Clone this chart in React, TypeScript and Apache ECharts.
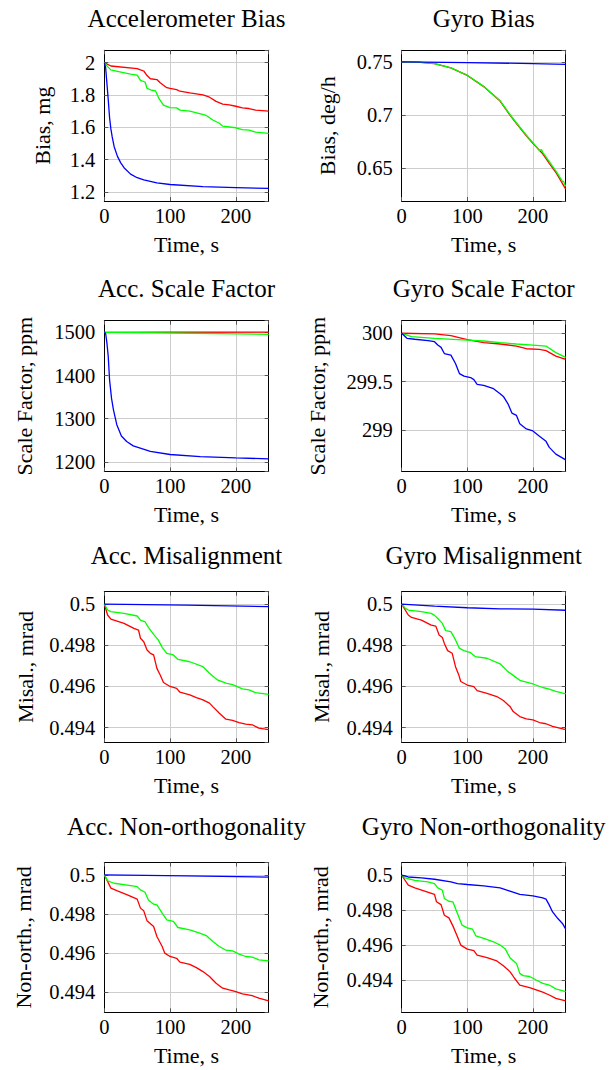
import React, { useEffect, useRef } from "react";
import * as echarts from "echarts";

const FONT = "Liberation Serif";

// ---------- Data (time in s, values) ----------
// 1. Accelerometer Bias (mg)
const accBiasRedT = [0, 10, 50, 55, 60, 65, 70, 80, 85, 90, 95, 100, 110, 115, 130, 150, 160, 170, 180, 190, 200, 210, 220, 230, 250];
const accBiasRedV = [2.0, 1.979, 1.963, 1.955, 1.948, 1.92, 1.9, 1.895, 1.875, 1.86, 1.845, 1.84, 1.833, 1.823, 1.813, 1.8, 1.786, 1.76, 1.743, 1.739, 1.73, 1.72, 1.716, 1.706, 1.7];
const accBiasGreenT = [0, 5, 10, 20, 40, 50, 55, 62, 65, 72, 78, 83, 90, 100, 110, 115, 130, 145, 155, 165, 175, 180, 200, 210, 220, 230, 250];
const accBiasGreenV = [2.0, 1.975, 1.955, 1.946, 1.928, 1.922, 1.89, 1.88, 1.84, 1.829, 1.825, 1.778, 1.737, 1.722, 1.72, 1.706, 1.7, 1.685, 1.673, 1.645, 1.625, 1.607, 1.597, 1.585, 1.582, 1.57, 1.562];
const accBiasBlueT = [0, 2, 4, 6, 8, 10, 12, 15, 20, 25, 30, 40, 50, 60, 80, 100, 150, 200, 250];
const accBiasBlueV = [2.0, 1.97, 1.87, 1.77, 1.66, 1.59, 1.54, 1.48, 1.42, 1.38, 1.35, 1.31, 1.288, 1.274, 1.256, 1.246, 1.233, 1.227, 1.222];

// 2. Gyro Bias (deg/h)
const gyroBiasRedT = [0, 25, 50, 75, 100, 125, 150, 165, 175, 190, 200, 215, 225, 236, 250];
const gyroBiasRedV = [0.75, 0.7498, 0.7485, 0.7444, 0.7373, 0.7268, 0.7132, 0.7, 0.692, 0.6805, 0.6733, 0.6635, 0.6545, 0.645, 0.6302];
const gyroBiasGreenT = [0, 25, 50, 75, 100, 125, 150, 165, 175, 190, 200, 210, 213, 215, 225, 236, 245, 247, 250];
const gyroBiasGreenV = [0.75, 0.7498, 0.7485, 0.7445, 0.7375, 0.727, 0.7135, 0.7005, 0.6925, 0.681, 0.674, 0.6665, 0.6675, 0.6648, 0.656, 0.6465, 0.6375, 0.6372, 0.6327];
const gyroBiasBlueT = [0, 100, 200, 250];
const gyroBiasBlueV = [0.75, 0.7494, 0.7485, 0.7478];

// 3. Acc. Scale Factor (ppm)
const accSfRedT = [0, 100, 250];
const accSfRedV = [1500, 1500.2, 1500.5];
const accSfGreenT = [0, 100, 200, 250];
const accSfGreenV = [1500, 1498.5, 1496.5, 1495.5];
const accSfBlueT = [0, 2, 4, 6, 8, 11, 14, 19, 26, 34, 44, 70, 100, 146, 200, 250];
const accSfBlueV = [1500, 1498, 1475, 1444, 1390, 1347, 1320, 1286, 1260, 1247, 1237, 1224, 1217, 1212, 1209, 1207];

// 4. Gyro Scale Factor (ppm)
const gyroSfRedT = [0, 50, 75, 100, 125, 150, 175, 190, 210, 220, 235, 250];
const gyroSfRedV = [300, 299.993, 299.976, 299.934, 299.903, 299.889, 299.868, 299.84, 299.833, 299.82, 299.764, 299.73];
const gyroSfGreenT = [0, 15, 50, 100, 125, 150, 175, 200, 220, 235, 250];
const gyroSfGreenV = [300, 299.965, 299.948, 299.93, 299.92, 299.903, 299.889, 299.878, 299.868, 299.8, 299.75];
const gyroSfBlueT = [0, 8, 20, 40, 50, 55, 60, 65, 75, 82, 88, 95, 105, 110, 115, 125, 140, 150, 155, 162, 168, 175, 180, 190, 200, 210, 220, 225, 235, 250];
const gyroSfBlueV = [300, 299.948, 299.938, 299.924, 299.913, 299.878, 299.854, 299.79, 299.774, 299.687, 299.583, 299.556, 299.542, 299.52, 299.472, 299.462, 299.427, 299.375, 299.347, 299.27, 299.174, 299.15, 299.063, 299.01, 298.99, 298.934, 298.882, 298.82, 298.75, 298.69];

// 5. Acc. Misalignment (mrad)
const accMisRedT = [0, 5, 10, 30, 45, 52, 55, 60, 65, 70, 75, 80, 85, 90, 100, 110, 115, 130, 140, 150, 160, 165, 175, 185, 195, 205, 215, 225, 235, 250];
const accMisRedV = [0.5, 0.49947, 0.49927, 0.49906, 0.49882, 0.49874, 0.49834, 0.49817, 0.49777, 0.49761, 0.49753, 0.49688, 0.49656, 0.49619, 0.496, 0.49591, 0.49572, 0.49559, 0.49546, 0.49535, 0.49519, 0.49502, 0.4947, 0.49441, 0.49435, 0.49425, 0.49417, 0.49414, 0.49398, 0.4939];
const accMisGreenT = [0, 5, 10, 30, 50, 55, 62, 67, 75, 82, 88, 95, 105, 112, 130, 150, 160, 172, 185, 195, 210, 220, 230, 250];
const accMisGreenV = [0.5, 0.49971, 0.49963, 0.49955, 0.49942, 0.49922, 0.49914, 0.49887, 0.49853, 0.49826, 0.4979, 0.49761, 0.49753, 0.49732, 0.4972, 0.49696, 0.49664, 0.49632, 0.49616, 0.49609, 0.49588, 0.49583, 0.4957, 0.49562];
const accMisBlueT = [0, 125, 250];
const accMisBlueV = [0.5, 0.49995, 0.49988];

// 6. Gyro Misalignment (mrad)
const gyroMisRedT = [0, 10, 15, 30, 45, 52, 57, 62, 65, 70, 77, 82, 87, 90, 100, 110, 115, 130, 145, 155, 165, 170, 180, 190, 200, 210, 220, 230, 250];
const gyroMisRedV = [0.5, 0.49947, 0.49935, 0.49922, 0.49898, 0.49893, 0.4985, 0.49838, 0.49809, 0.49774, 0.49761, 0.49696, 0.49656, 0.49624, 0.49607, 0.49599, 0.4958, 0.49567, 0.49551, 0.49532, 0.49503, 0.49478, 0.49454, 0.49443, 0.49438, 0.49425, 0.49419, 0.49406, 0.4939];
const gyroMisGreenT = [0, 5, 10, 30, 45, 50, 55, 62, 67, 75, 82, 88, 95, 105, 112, 130, 150, 162, 172, 180, 200, 215, 225, 235, 250];
const gyroMisGreenV = [0.5, 0.49981, 0.49971, 0.49963, 0.49955, 0.49945, 0.4993, 0.49906, 0.49871, 0.49866, 0.49826, 0.49785, 0.49774, 0.49764, 0.49745, 0.49737, 0.4971, 0.49672, 0.49649, 0.4963, 0.49612, 0.49595, 0.49587, 0.49576, 0.49564];
const gyroMisBlueT = [0, 50, 100, 150, 200, 250];
const gyroMisBlueV = [0.5, 0.4999, 0.49982, 0.49977, 0.49975, 0.4997];

// 7. Acc. Non-orthogonality (mrad)
const accNonRedT = [0, 10, 20, 35, 50, 55, 60, 65, 75, 80, 88, 92, 100, 110, 115, 130, 140, 150, 160, 170, 180, 190, 200, 210, 225, 235, 250];
const accNonRedV = [0.5, 0.49932, 0.49918, 0.49898, 0.49876, 0.4983, 0.49816, 0.49765, 0.49736, 0.49685, 0.49634, 0.496, 0.49583, 0.49574, 0.49554, 0.49543, 0.49526, 0.49506, 0.49481, 0.49446, 0.49421, 0.49412, 0.49404, 0.49392, 0.49383, 0.4937, 0.49356];
const accNonGreenT = [0, 5, 15, 40, 50, 55, 62, 67, 75, 80, 88, 95, 105, 112, 130, 145, 155, 165, 175, 185, 195, 205, 215, 225, 235, 250];
const accNonGreenV = [0.5, 0.49969, 0.49957, 0.49945, 0.4994, 0.49923, 0.49911, 0.49872, 0.4985, 0.49847, 0.49804, 0.4977, 0.49762, 0.49731, 0.49719, 0.49702, 0.4969, 0.4966, 0.49634, 0.49615, 0.49612, 0.49595, 0.49583, 0.4958, 0.49566, 0.49561];
const accNonBlueT = [0, 125, 250];
const accNonBlueV = [0.5, 0.49995, 0.49988];

// 8. Gyro Non-orthogonality (mrad)
const gyroNonRedT = [0, 10, 20, 35, 50, 53, 60, 65, 72, 78, 85, 90, 100, 110, 115, 130, 145, 155, 165, 172, 180, 195, 205, 215, 225, 235, 250];
const gyroNonRedV = [0.5, 0.49943, 0.49928, 0.49909, 0.4989, 0.49848, 0.49832, 0.49771, 0.49756, 0.4971, 0.49648, 0.496, 0.49577, 0.49568, 0.49543, 0.49528, 0.49509, 0.49482, 0.49448, 0.4941, 0.49371, 0.49356, 0.49343, 0.4933, 0.49314, 0.49295, 0.4928];
const gyroNonGreenT = [0, 5, 20, 40, 50, 55, 62, 65, 72, 78, 82, 88, 92, 100, 108, 113, 125, 140, 150, 158, 165, 175, 180, 185, 195, 205, 215, 225, 235, 250];
const gyroNonGreenV = [0.5, 0.49985, 0.49971, 0.49962, 0.49952, 0.49928, 0.49914, 0.49867, 0.49851, 0.49848, 0.4981, 0.49752, 0.49714, 0.49699, 0.49691, 0.49653, 0.49638, 0.49619, 0.496, 0.49577, 0.49528, 0.49495, 0.49438, 0.49425, 0.4942, 0.494, 0.49381, 0.49371, 0.49349, 0.49333];
const gyroNonBlueT = [0, 10, 30, 50, 75, 85, 100, 125, 150, 165, 180, 200, 215, 220, 225, 230, 238, 245, 250];
const gyroNonBlueV = [0.5, 0.4999, 0.49985, 0.49977, 0.49962, 0.49952, 0.49947, 0.49939, 0.49928, 0.49909, 0.4989, 0.49882, 0.4987, 0.49863, 0.49829, 0.4979, 0.49752, 0.49724, 0.49691];

// ---------- Panel text / axis ranges ----------
const titles = [
  "Accelerometer Bias", "Gyro Bias",
  "Acc. Scale Factor", "Gyro Scale Factor",
  "Acc. Misalignment", "Gyro Misalignment",
  "Acc. Non-orthogonality", "Gyro Non-orthogonality",
];
const yNames = [
  "Bias, mg", "Bias, deg/h",
  "Scale Factor, ppm", "Scale Factor, ppm",
  "Misal., mrad", "Misal., mrad",
  "Non-orth., mrad", "Non-orth., mrad",
];
const xName = "Time, s";
const yMins = [1.144, 0.619, 1177.6, 298.57, 0.49329, 0.49329, 0.49298, 0.49215];
const yMaxs = [2.076, 0.761, 1527, 300.13, 0.5006, 0.5006, 0.50063, 0.50073];
const ySplits = [5, 3, 3, 3, 4, 4, 4, 4];

const seriesData = [
  [[accBiasRedT, accBiasRedV], [accBiasGreenT, accBiasGreenV], [accBiasBlueT, accBiasBlueV]],
  [[gyroBiasRedT, gyroBiasRedV], [gyroBiasGreenT, gyroBiasGreenV], [gyroBiasBlueT, gyroBiasBlueV]],
  [[accSfRedT, accSfRedV], [accSfGreenT, accSfGreenV], [accSfBlueT, accSfBlueV]],
  [[gyroSfRedT, gyroSfRedV], [gyroSfGreenT, gyroSfGreenV], [gyroSfBlueT, gyroSfBlueV]],
  [[accMisRedT, accMisRedV], [accMisGreenT, accMisGreenV], [accMisBlueT, accMisBlueV]],
  [[gyroMisRedT, gyroMisRedV], [gyroMisGreenT, gyroMisGreenV], [gyroMisBlueT, gyroMisBlueV]],
  [[accNonRedT, accNonRedV], [accNonGreenT, accNonGreenV], [accNonBlueT, accNonBlueV]],
  [[gyroNonRedT, gyroNonRedV], [gyroNonGreenT, gyroNonGreenV], [gyroNonBlueT, gyroNonBlueV]],
];

// ---------- Layout (pixels) ----------
const colLeft = [104.3, 401.7];
const colWidth = [164.4, 164];
const rowTop = [50.3, 320.7, 591.7, 862.5];
const rowHeight = [150.7, 150.8, 150.6, 149.8];
const titleX = [186.5, 483.7];
const titleY = [18.7, 288.8, 555.8, 826.3];
const yNameGaps = [51, 63, 69, 73, 68, 69, 70, 70];
const lineColors = ["#ff0000", "#00ff00", "#0000ff"];

const fmt = (v: number) => String(parseFloat(Number(v).toPrecision(10)));

export default function App() {
  const ref = useRef<HTMLDivElement>(null);
  useEffect(() => {
    if (!ref.current) return;
    const chart = echarts.init(ref.current, undefined, { renderer: "svg" });

    const grid: any[] = [];
    const xAxis: any[] = [];
    const yAxis: any[] = [];
    const series: any[] = [];
    const graphic: any[] = [];

    const axisLine = { show: true, onZero: false, lineStyle: { color: "#000", width: 1 } };
    const tick = { show: true, inside: true, length: 4, lineStyle: { color: "#555", width: 1 } };
    const split = { show: true, lineStyle: { color: "#cdcdcd", width: 1 } };

    for (let i = 0; i < 8; i++) {
      const col = i % 2;
      const row = Math.floor(i / 2);
      grid.push({
        left: colLeft[col],
        top: rowTop[row],
        width: colWidth[col],
        height: rowHeight[row],
        containLabel: false,
        outerBoundsMode: "none",
      });
      xAxis.push({
        type: "value", gridIndex: i, position: "bottom", min: 0, max: 250, interval: 100,
        name: xName, nameLocation: "middle", nameGap: 32,
        nameTextStyle: { fontFamily: FONT, fontSize: 22, color: "#000" },
        axisLine, axisTick: tick, splitLine: split,
        axisLabel: { margin: 4, fontFamily: FONT, fontSize: 20.5, color: "#000", showMaxLabel: false, showMinLabel: true, formatter: fmt },
      });
      xAxis.push({
        type: "value", gridIndex: i, position: "top", min: 0, max: 250, interval: 100,
        axisLine, axisTick: tick, splitLine: { show: false }, axisLabel: { show: false },
      });
      yAxis.push({
        type: "value", gridIndex: i, position: "left", min: yMins[i], max: yMaxs[i], splitNumber: ySplits[i],
        name: yNames[i], nameLocation: "middle", nameRotate: 90, nameGap: yNameGaps[i],
        nameTextStyle: { fontFamily: FONT, fontSize: 22, color: "#000" },
        axisLine, axisTick: tick, splitLine: split,
        axisLabel: { margin: 9, fontFamily: FONT, fontSize: 20.5, color: "#000", showMinLabel: false, showMaxLabel: false, formatter: fmt },
      });
      yAxis.push({
        type: "value", gridIndex: i, position: "right", min: yMins[i], max: yMaxs[i], splitNumber: ySplits[i],
        axisLine, axisTick: tick, splitLine: { show: false }, axisLabel: { show: false },
      });
      seriesData[i].forEach(([t, v], k) => {
        series.push({
          type: "line", xAxisIndex: 2 * i, yAxisIndex: 2 * i,
          data: t.map((tt: number, j: number) => [tt, v[j]]),
          showSymbol: false, symbol: "none", clip: true,
          lineStyle: { color: lineColors[k], width: 1.3 },
          itemStyle: { color: lineColors[k] },
          z: 3,
        });
      });
      graphic.push({
        type: "text", x: titleX[col], y: titleY[row], silent: true,
        style: {
          text: titles[i], fontFamily: FONT, fontSize: 25, fill: "#000",
          align: "center", verticalAlign: "middle",
        },
      });
    }

    chart.setOption({
      animation: false,
      backgroundColor: "#ffffff",
      grid, xAxis, yAxis, series, graphic,
    });
    return () => chart.dispose();
  }, []);

  return (
    <div
      ref={ref}
      style={{ position: "absolute", left: 0, top: 0, width: 611, height: 1070, background: "#fff" }}
    />
  );
}
